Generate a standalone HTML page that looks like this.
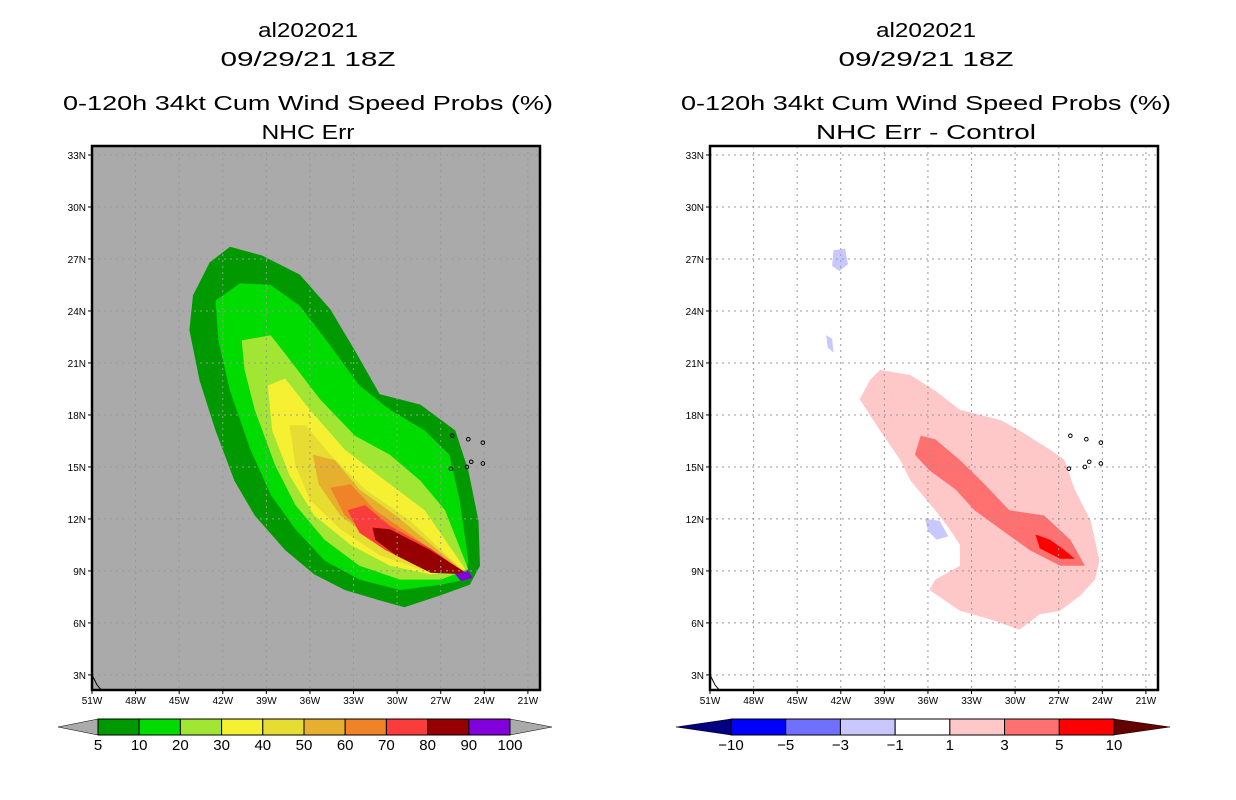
<!DOCTYPE html>
<html><head><meta charset="utf-8"><style>
body{margin:0;background:#fff;font-family:"Liberation Sans",sans-serif}
svg{display:block}
text{font-family:"Liberation Sans",sans-serif}
</style></head><body>
<svg id="s" width="1236" height="800">
<g font-size="20" text-anchor="middle" fill="#000" lengthAdjust="spacingAndGlyphs">
<text x="308" y="37" textLength="100" lengthAdjust="spacingAndGlyphs">al202021</text><text x="308" y="66" textLength="175" lengthAdjust="spacingAndGlyphs">09/29/21 18Z</text>
<text x="308" y="110" textLength="490" lengthAdjust="spacingAndGlyphs">0-120h 34kt Cum Wind Speed Probs (%)</text><text x="308" y="139" textLength="93" lengthAdjust="spacingAndGlyphs">NHC Err</text></g>
<g font-size="20" text-anchor="middle" fill="#000">
<text x="926" y="37" textLength="100" lengthAdjust="spacingAndGlyphs">al202021</text><text x="926" y="66" textLength="175" lengthAdjust="spacingAndGlyphs">09/29/21 18Z</text>
<text x="926" y="110" textLength="490" lengthAdjust="spacingAndGlyphs">0-120h 34kt Cum Wind Speed Probs (%)</text><text x="926" y="139" textLength="220" lengthAdjust="spacingAndGlyphs">NHC Err - Control</text></g>
</svg>
<script>
const lonTicks=[-51,-48,-45,-42,-39,-36,-33,-30,-27,-24,-21];
const latTicks=[3,6,9,12,15,18,21,24,27,30,33];
const leftLevels=["5","10","20","30","40","50","60","70","80","90","100"];
const leftColors=["#009a00","#00dc00","#a0e632","#f5f032","#e6dc32","#e6af2d","#f08228","#fa3c3c","#960000","#8200dc"];
const rightLevels=["-10","-5","-3","-1","1","3","5","10"];
const rightColors=["#0000ff","#7070ff","#c8c8ff","#ffffff","#ffc8c8","#ff7070","#ff0000"];
const c5=[[-44.05,24.9],[-42.9,26.8],[-41.5,27.7],[-39.3,27.2],[-36.7,26.1],[-34.6,24.1],[-32.9,21.7],[-31.2,19.2],[-28.4,18.6],[-26.0,17.1],[-25.1,14.8],[-24.4,11.9],[-24.3,9.3],[-25.0,8.2],[-27.0,7.6],[-29.5,6.9],[-31.2,7.3],[-33.6,7.9],[-35.7,8.8],[-37.7,10.2],[-39.8,12.2],[-41.2,14.2],[-42.5,17.1],[-43.6,20.0],[-44.3,22.9]];
const c10=[[-42.5,24.6],[-40.8,25.6],[-38.7,25.5],[-36.7,24.3],[-34.6,22.0],[-32.6,19.7],[-30.5,18.3],[-28.1,17.1],[-26.4,15.7],[-25.7,13.1],[-25.1,9.6],[-25.3,8.5],[-27.0,8.2],[-29.8,7.9],[-32.6,8.5],[-35.0,9.6],[-37.0,11.4],[-38.7,13.4],[-40.1,16.0],[-41.5,19.4],[-42.3,22.3]];
const c20=[[-40.7,22.3],[-38.7,22.6],[-37.4,21.2],[-35.3,18.9],[-32.9,16.8],[-30.5,15.7],[-28.4,14.2],[-26.7,12.5],[-25.1,9.1],[-27.0,8.5],[-29.8,8.5],[-32.6,9.3],[-35.0,10.8],[-37.0,12.8],[-38.4,15.1],[-39.8,18.3],[-40.5,20.6]];
const c30=[[-38.9,19.7],[-37.7,20.1],[-36.0,18.3],[-33.6,16.0],[-30.8,14.2],[-28.1,12.5],[-25.3,9.1],[-27.7,8.8],[-30.5,9.3],[-33.2,10.5],[-35.7,12.2],[-37.4,14.5],[-38.6,17.1]];
const c40=[[-37.4,17.4],[-36.3,17.4],[-34.6,15.7],[-32.2,13.7],[-29.1,11.9],[-25.3,8.9],[-28.4,9.1],[-31.2,9.9],[-33.9,11.4],[-36.0,13.1],[-37.0,15.1]];
const c50=[[-35.8,15.7],[-34.3,15.4],[-32.6,13.7],[-30.1,12.2],[-25.3,8.9],[-28.4,9.3],[-31.2,10.5],[-33.9,12.2],[-35.4,14.0]];
const c60=[[-34.6,13.8],[-33.2,14.0],[-31.5,12.5],[-29.1,11.1],[-25.3,8.8],[-28.4,9.3],[-31.2,10.5],[-33.6,12.2]];
const c70=[[-33.4,12.5],[-32.2,12.8],[-30.5,11.6],[-27.7,10.3],[-25.2,8.8],[-28.4,9.2],[-30.8,10.2],[-32.6,11.2]];
const c80=[[-31.7,11.5],[-30.5,11.4],[-27.7,10.2],[-25.1,8.8],[-27.7,8.9],[-30.1,9.9],[-31.5,10.8]];
const c90=[[-26.0,8.8],[-25.1,9.0],[-24.8,8.6],[-25.6,8.4]];
const d1=[[-39.3,20.6],[-37.2,20.3],[-35.5,19.4],[-33.8,18.3],[-31.0,17.7],[-29.7,17.1],[-27.6,16.0],[-26.6,15.4],[-25.9,13.7],[-24.8,11.9],[-24.2,9.6],[-24.5,8.5],[-25.5,7.6],[-26.9,6.7],[-28.3,6.5],[-29.7,5.6],[-31.7,6.2],[-33.8,6.7],[-35.9,7.9],[-35.5,8.5],[-33.8,9.3],[-33.8,10.5],[-34.5,11.4],[-35.5,12.5],[-37.2,14.2],[-37.9,15.4],[-39.3,17.1],[-40.7,18.9],[-40.0,20.0]];
const d3=[[-36.5,16.8],[-35.5,16.6],[-33.8,15.4],[-32.1,14.0],[-30.4,12.5],[-28.0,12.2],[-26.2,10.8],[-25.2,9.3],[-26.9,9.3],[-29.0,10.2],[-31.0,11.4],[-32.8,12.5],[-34.1,13.7],[-35.9,14.8],[-36.9,15.7]];
const d5=[[-28.6,11.1],[-27.6,10.8],[-26.6,10.2],[-25.9,9.7],[-26.9,9.7],[-28.3,10.3]];
const dneg1=[[-42.5,27.5],[-41.7,27.6],[-41.5,26.7],[-42.1,26.3],[-42.6,26.6]];
const dneg2=[[-36.2,12.0],[-35.2,11.9],[-34.6,11.0],[-35.4,10.8],[-36.0,11.3]];
const dneg3=[[-43.0,22.6],[-42.6,22.4],[-42.5,21.6],[-42.9,21.9]];
const S=document.getElementById('s'),NS='http://www.w3.org/2000/svg';
function mk(t,a,p){const e=document.createElementNS(NS,t);for(const k in a)e.setAttribute(k,a[k]);(p||S).appendChild(e);return e;}
const Y0=155,DY=17.33,DX=14.53;
function xs(x0){return lon=>x0+(lon+51)*DX;}
function ys(lat){return Y0+(33-lat)*DY;}
function poly(pts,x,fill,g){const e=mk('polygon',{points:pts.map(p=>x(p[0]).toFixed(1)+','+ys(p[1]).toFixed(1)).join(' '),fill:fill},g);

}
function panel(x0,bg,fills,name){
 const x=xs(x0);
 const g=mk('g',{});
 
 
 mk('rect',{x:x0,y:146,width:448,height:544,fill:bg},g);
 fills.forEach(f=>poly(f[0],x,f[1],g));
 lonTicks.forEach(l=>{mk('line',{x1:x(l),x2:x(l),y1:146,y2:690,stroke:'#999','stroke-dasharray':'2,4','stroke-width':1},g);
  const t=mk('text',{x:x(l),y:704,'font-size':10,'text-anchor':'middle'},g);t.textContent=(-l)+'W';
  
  mk('line',{x1:x(l),x2:x(l),y1:690,y2:694,stroke:'#000'},g);});
 latTicks.forEach(l=>{mk('line',{x1:x0,x2:x0+448,y1:ys(l),y2:ys(l),stroke:'#999','stroke-dasharray':'2,4','stroke-width':1},g);
  const t=mk('text',{x:x0-6,y:ys(l)+4,'font-size':10,'text-anchor':'end'},g);t.textContent=l+'N';
  
  mk('line',{x1:x0-4,x2:x0,y1:ys(l),y2:ys(l),stroke:'#000'},g);});
 [[-26.2,16.8],[-25.1,16.6],[-24.1,16.4],[-24.1,15.2],[-25.2,15.0],[-26.3,14.9],[-24.9,15.3]].forEach(p=>{
  mk('circle',{cx:x(p[0]),cy:ys(p[1]),r:1.8,fill:'none',stroke:'#000','stroke-width':1},g);});
 mk('polyline',{points:`${x0},${ys(3)} ${x0+5},${ys(3)+10} ${x0+10},${ys(3)+16}`,fill:'none',stroke:'#000'},g);
 mk('rect',{x:x0,y:146,width:448,height:544,fill:'none',stroke:'#000','stroke-width':2.5},g);
}
panel(92,'#aaaaaa',[[c5,leftColors[0]],[c10,leftColors[1]],[c20,leftColors[2]],[c30,leftColors[3]],[c40,leftColors[4]],[c50,leftColors[5]],[c60,leftColors[6]],[c70,leftColors[7]],[c80,leftColors[8]],[c90,leftColors[9]]],'left-map');
panel(710,'#ffffff',[[d1,rightColors[4]],[d3,rightColors[5]],[d5,rightColors[6]],[dneg1,rightColors[2]],[dneg2,rightColors[2]],[dneg3,rightColors[2]]],'right-map');
function cbar(x0,x1,tl,tr,cols,labs,lc,rc,name){
 const g=mk('g',{});
 
 
 const w=(x1-x0)/cols.length;
 mk('polygon',{points:`${tl},727 ${x0},719 ${x0},735`,fill:lc,stroke:'#000','stroke-width':0.5},g);
 mk('polygon',{points:`${tr},727 ${x1},719 ${x1},735`,fill:rc,stroke:'#000','stroke-width':0.5},g);
 cols.forEach((c,i)=>{const r=mk('rect',{x:x0+i*w,y:719,width:w,height:16,fill:c,stroke:'#000','stroke-width':1},g);
  });
 labs.forEach((l,i)=>{const t=mk('text',{x:x0+i*w,y:750,'font-size':15,'text-anchor':'middle'},g);t.textContent=l.replace('-','\u2212');
  });
}
cbar(98,510,58,552,leftColors,leftLevels,'#aaaaaa','#aaaaaa','left-colorbar');
cbar(731,1114,676,1170,rightColors,rightLevels,'#000080','#640000','right-colorbar');
</script>
</body></html>
